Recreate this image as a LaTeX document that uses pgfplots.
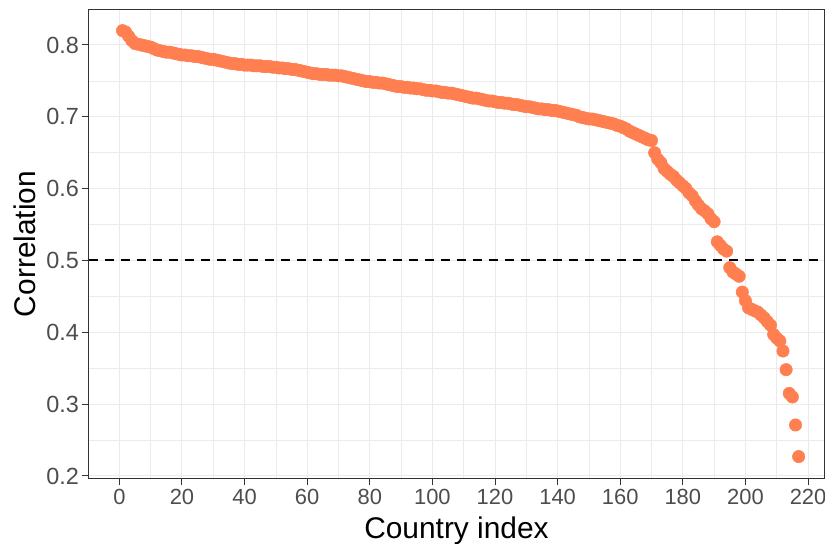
\documentclass[border=0pt]{standalone}
\usepackage{pgfplots}
\pgfplotsset{compat=1.18}
\usepackage{fontspec}
\setmainfont{Liberation Sans}
\definecolor{ptc}{HTML}{FF7F50}
\definecolor{gridc}{HTML}{EBEBEB}
\definecolor{tkc}{HTML}{4D4D4D}
\definecolor{bdc}{HTML}{333333}
\pgfplotstableread{
x y
1 0.820
2 0.818
3 0.812
4 0.806
5 0.802
6 0.801
7 0.800
8 0.799
9 0.798
10 0.797
11 0.795
12 0.793
13 0.792
14 0.791
15 0.790
16 0.790
17 0.789
18 0.788
19 0.787
20 0.786
21 0.786
22 0.785
23 0.785
24 0.784
25 0.784
26 0.783
27 0.782
28 0.781
29 0.780
30 0.780
31 0.779
32 0.778
33 0.777
34 0.776
35 0.775
36 0.774
37 0.774
38 0.773
39 0.773
40 0.772
41 0.772
42 0.772
43 0.771
44 0.771
45 0.771
46 0.770
47 0.770
48 0.770
49 0.769
50 0.769
51 0.768
52 0.768
53 0.767
54 0.767
55 0.766
56 0.766
57 0.765
58 0.764
59 0.763
60 0.762
61 0.761
62 0.760
63 0.760
64 0.759
65 0.759
66 0.759
67 0.758
68 0.758
69 0.758
70 0.757
71 0.757
72 0.756
73 0.755
74 0.754
75 0.753
76 0.752
77 0.751
78 0.750
79 0.749
80 0.749
81 0.748
82 0.748
83 0.747
84 0.747
85 0.746
86 0.745
87 0.744
88 0.743
89 0.742
90 0.742
91 0.741
92 0.741
93 0.740
94 0.740
95 0.739
96 0.739
97 0.738
98 0.737
99 0.737
100 0.736
101 0.736
102 0.735
103 0.734
104 0.734
105 0.733
106 0.733
107 0.732
108 0.731
109 0.730
110 0.729
111 0.728
112 0.727
113 0.726
114 0.726
115 0.725
116 0.724
117 0.723
118 0.722
119 0.722
120 0.721
121 0.720
122 0.720
123 0.719
124 0.719
125 0.718
126 0.717
127 0.717
128 0.716
129 0.715
130 0.714
131 0.714
132 0.713
133 0.712
134 0.711
135 0.711
136 0.710
137 0.710
138 0.709
139 0.709
140 0.708
141 0.707
142 0.706
143 0.705
144 0.704
145 0.703
146 0.702
147 0.700
148 0.699
149 0.698
150 0.697
151 0.697
152 0.696
153 0.695
154 0.694
155 0.693
156 0.692
157 0.691
158 0.690
159 0.688
160 0.687
161 0.685
162 0.683
163 0.680
164 0.678
165 0.676
166 0.674
167 0.672
168 0.670
169 0.668
170 0.667
171 0.650
172 0.641
173 0.636
174 0.628
175 0.624
176 0.620
177 0.617
178 0.612
179 0.608
180 0.604
181 0.600
182 0.594
183 0.590
184 0.583
185 0.577
186 0.572
187 0.569
188 0.565
189 0.558
190 0.554
191 0.526
192 0.521
193 0.516
194 0.513
195 0.490
196 0.484
197 0.481
198 0.478
199 0.456
200 0.444
201 0.434
202 0.432
203 0.430
204 0.428
205 0.424
206 0.420
207 0.415
208 0.410
209 0.397
210 0.392
211 0.388
212 0.374
213 0.348
214 0.315
215 0.310
216 0.271
217 0.227
}\corr
\begin{document}
\begin{tikzpicture}
\useasboundingbox (-89bp,-66bp) rectangle (736bp,478bp);
\begin{axis}[
  scale only axis, width=735bp, height=468bp,
  at={(0,0)}, anchor=south west,
  xmin=-9.7, xmax=225.1, ymin=0.1972, ymax=0.8487,
  xtick={0,20,40,60,80,100,120,140,160,180,200,220},
  ytick={0.2,0.3,0.4,0.5,0.6,0.7,0.8},
  minor xtick={10,30,50,70,90,110,130,150,170,190,210},
  minor ytick={0.25,0.35,0.45,0.55,0.65,0.75},
  grid=both,
  major grid style={gridc, line width=1bp},
  minor grid style={gridc, line width=0.5bp},
  axis line style={bdc, line width=1bp},
  major tick style={bdc, line width=1bp},
  major tick length=7bp, minor tick length=0pt,
  tick align=outside, xtick pos=bottom, ytick pos=left,
  /pgf/number format/assume math mode=true,
  tick label style={font=\fontsize{23.5}{25}\selectfont, text=tkc},
  yticklabel style={/pgf/number format/fixed, /pgf/number format/fixed zerofill, /pgf/number format/precision=1, inner sep=0pt, xshift=-3bp},
  xticklabel style={/pgf/number format/fixed, inner sep=0pt, yshift=-4bp, font=\fontsize{22}{24}\selectfont},
  label style={font=\fontsize{30}{32}\selectfont, text=black},
  xlabel={Country index},
  ylabel={Correlation},
  xlabel style={at={(axis description cs:0.5,0)}, anchor=base, yshift=-60bp},
  ylabel style={at={(axis description cs:-0.088,0.5)}, anchor=center},
  clip=false,
]
\addplot[ptc, only marks, mark=*, mark size=6.2bp, mark options={fill=ptc, draw=ptc, line width=0.5bp}] table[x=x, y=y] {\corr};
\addplot[black, line width=2bp, dash pattern=on 9bp off 7bp] coordinates {(-9.7,0.5) (225.1,0.5)};
\end{axis}
\end{tikzpicture}
\end{document}
